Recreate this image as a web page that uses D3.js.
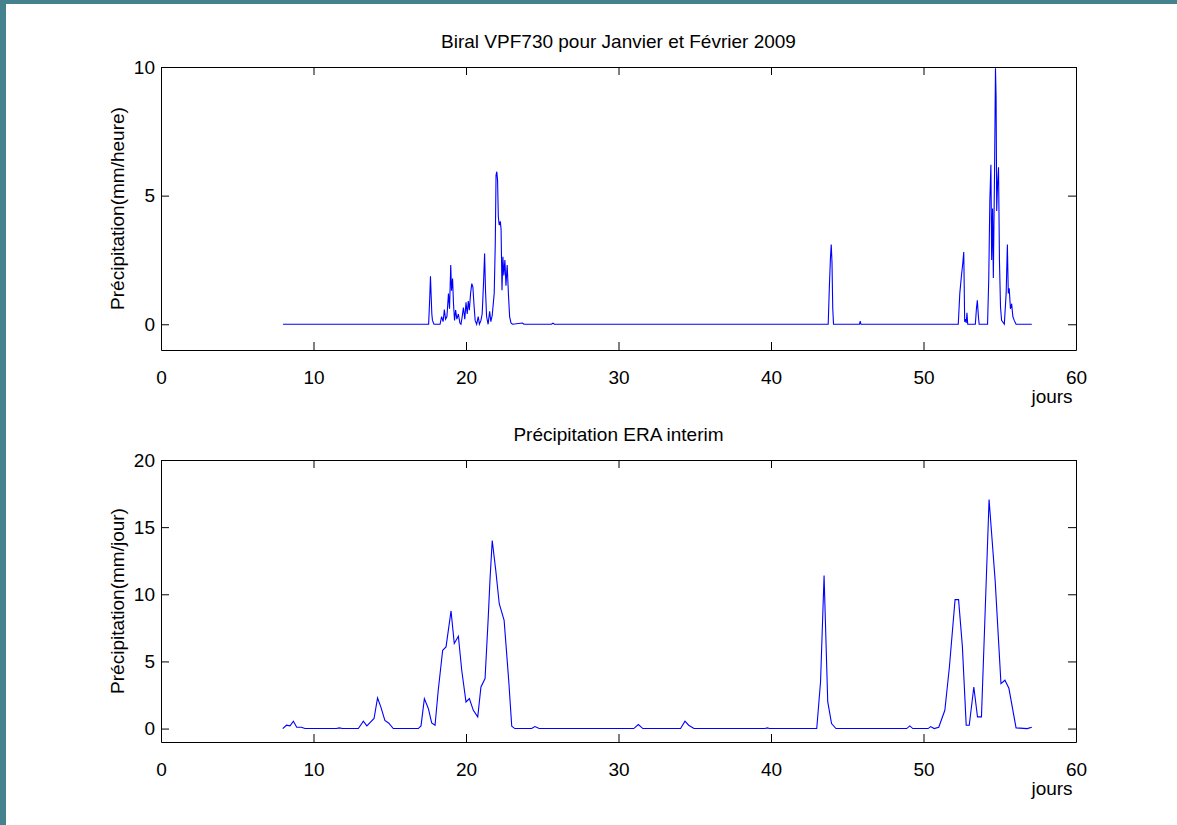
<!DOCTYPE html>
<html>
<head>
<meta charset="utf-8">
<script src="https://cdn.jsdelivr.net/npm/d3@7"></script>
<style>
  html, body { margin: 0; padding: 0; background: #fff; }
  svg { display: block; }
  text { font-family: "Liberation Sans", Arial, Helvetica, sans-serif; fill: #000; }
</style>
</head>
<body>
<svg id="chart"></svg>
<script>
// Biral VPF730 hourly precipitation (mm/heure), [day, value]
const biralPoints = [
  [8.0, 0], [17.55, 0], [17.62, 1.0], [17.67, 1.87], [17.71, 1.19], [17.76, 0.4], [17.8, 0.15], [17.9, 0],
  [18.3, 0], [18.4, 0.3], [18.5, 0.1], [18.58, 0.57], [18.66, 0.2], [18.75, 0.3], [18.85, 1.19], [18.92, 0.6],
  [19.0, 2.3], [19.05, 1.3], [19.12, 1.78], [19.18, 0.8], [19.25, 0.15], [19.32, 0.55], [19.4, 0.2], [19.5, 0.4],
  [19.6, 0.05], [19.67, 0], [19.75, 0.3], [19.83, 0.65], [19.92, 0.2], [20.0, 0.85], [20.08, 0.4], [20.15, 0.9],
  [20.22, 0.55], [20.3, 1.2], [20.38, 1.58], [20.45, 1.45], [20.52, 0.8], [20.6, 0.15], [20.7, 0], [20.8, 0.3],
  [20.88, 0], [20.98, 0.15], [21.06, 0.4], [21.15, 1.6], [21.22, 2.75], [21.28, 1.3], [21.35, 0.3], [21.45, 0],
  [21.55, 0.5], [21.63, 0.1], [21.72, 0.35], [21.85, 1.2], [21.92, 3.15], [21.97, 5.8], [22.02, 5.93], [22.07, 5.6],
  [22.12, 4.17], [22.18, 3.85], [22.25, 4.0], [22.3, 3.7], [22.36, 1.32], [22.42, 2.62], [22.48, 1.9], [22.55, 2.5],
  [22.62, 1.5], [22.7, 2.3], [22.78, 1.2], [22.86, 0.3], [22.95, 0.05], [23.05, 0], [23.7, 0.05], [23.8, 0],
  [25.6, 0], [25.7, 0.04], [25.8, 0], [43.75, 0], [43.83, 1.5], [43.9, 2.6], [43.95, 3.1], [44.0, 2.4],
  [44.05, 0.6], [44.1, 0], [45.8, 0], [45.85, 0.12], [45.9, 0], [52.28, 0], [52.38, 1.2], [52.48, 1.84],
  [52.58, 2.4], [52.64, 2.81], [52.7, 0.1], [52.76, 0.2], [52.8, 0.05], [52.85, 0.45], [52.9, 0], [53.4, 0],
  [53.47, 0.6], [53.53, 0.93], [53.6, 0.3], [53.65, 0], [54.2, 0], [54.28, 1.8], [54.35, 4.8], [54.42, 6.2],
  [54.47, 2.5], [54.53, 4.5], [54.58, 1.8], [54.66, 6.0], [54.72, 9.95], [54.76, 8.8], [54.8, 4.4], [54.86, 5.5],
  [54.92, 6.1], [54.98, 2.5], [55.05, 0.67], [55.12, 0.15], [55.3, 0], [55.42, 1.2], [55.5, 3.1], [55.56, 1.2],
  [55.62, 1.4], [55.7, 0.6], [55.78, 0.8], [55.86, 0.3], [55.95, 0.15], [56.07, 0], [57.1, 0]
];

// ERA interim precipitation (mm/jour), [day, value]
const eraPoints = [
  [7.98, 0], [8.23, 0.25], [8.46, 0.2], [8.68, 0.55], [8.9, 0.1], [9.2, 0.1], [9.44, 0], [11.5, 0],
  [11.69, 0.05], [11.9, 0], [12.94, 0], [13.27, 0.55], [13.5, 0.2], [13.97, 0.75], [14.2, 2.28], [14.42, 1.6],
  [14.68, 0.6], [14.94, 0.4], [15.23, 0], [16.87, 0], [17.05, 0.2], [17.27, 2.23], [17.53, 1.5], [17.75, 0.42],
  [17.97, 0.25], [18.18, 2.85], [18.47, 5.83], [18.69, 6.08], [19.02, 8.76], [19.23, 6.33], [19.5, 6.87], [19.72, 4.34],
  [20.0, 1.98], [20.22, 2.23], [20.48, 1.36], [20.77, 0.87], [20.98, 3.1], [21.25, 3.72], [21.46, 8.3], [21.57, 11],
  [21.72, 14.0], [21.95, 11.8], [22.18, 9.3], [22.5, 8.06], [22.8, 3.6], [23.0, 0.17], [23.2, 0], [24.3, 0],
  [24.52, 0.15], [24.8, 0], [31.0, 0], [31.3, 0.3], [31.6, 0], [34.07, 0], [34.36, 0.55], [34.6, 0.25],
  [34.95, 0], [39.6, 0], [39.76, 0.05], [39.9, 0], [43.0, 0], [43.25, 3.5], [43.48, 11.4], [43.72, 2.0],
  [43.97, 0.37], [44.26, 0], [48.9, 0], [49.1, 0.2], [49.3, 0], [50.3, 0], [50.47, 0.15], [50.7, 0],
  [51.0, 0.1], [51.4, 1.36], [51.7, 4.6], [52.07, 9.6], [52.3, 9.6], [52.55, 6.1], [52.8, 0.25], [53.0, 0.25],
  [53.3, 3.1], [53.54, 0.87], [53.8, 0.87], [54.0, 7.3], [54.3, 17.05], [54.7, 11.0], [55.08, 3.35], [55.34, 3.6],
  [55.6, 3.0], [56.07, 0.05], [56.8, 0], [57.1, 0.1]
];

const xTicks = [0, 10, 20, 30, 40, 50, 60];
const biralYTicks = [0, 5, 10];
const eraYTicks = [0, 5, 10, 15, 20];

const width = 1177, height = 825;
const fontSize = '19px';
const svg = d3.select('#chart').attr('width', width).attr('height', height);

// slide background showing at the edges
svg.append('rect').attr('width', width).attr('height', height).attr('fill', '#44838d');
svg.append('rect').attr('x', 6).attr('y', 4).attr('width', width - 6).attr('height', height - 4).attr('fill', '#fff');

function drawPanel(cfg) {
  const x = d3.scaleLinear().domain([0, 60]).range([161, 1076]);
  const y = d3.scaleLinear().domain(cfg.yDomain).range([cfg.bottom, cfg.top]);
  const g = svg.append('g');

  const line = d3.line().x(d => x(d[0])).y(d => y(d[1]));
  g.append('path')
    .datum(cfg.data)
    .attr('d', line)
    .attr('fill', 'none')
    .attr('stroke', '#0000ff')
    .attr('stroke-width', 1.1);

  const tick = 8;
  g.append('g').attr('transform', `translate(0,${cfg.bottom})`)
    .call(d3.axisBottom(x).tickValues(xTicks).tickSizeInner(-tick).tickSizeOuter(0).tickPadding(21));
  g.append('g').attr('transform', `translate(0,${cfg.top})`)
    .call(d3.axisTop(x).tickValues(xTicks).tickSizeInner(-tick).tickSizeOuter(0).tickFormat(''));
  g.append('g').attr('transform', 'translate(161,0)')
    .call(d3.axisLeft(y).tickValues(cfg.yTicks).tickSizeInner(-tick).tickSizeOuter(0).tickPadding(6));
  g.append('g').attr('transform', 'translate(1076,0)')
    .call(d3.axisRight(y).tickValues(cfg.yTicks).tickSizeInner(-tick).tickSizeOuter(0).tickFormat(''));

  g.selectAll('.domain').attr('stroke', '#000');
  g.selectAll('.tick line').attr('stroke', '#000');
  g.selectAll('.tick text').style('font-size', fontSize).attr('fill', '#000');

  g.append('text')
    .attr('x', (161 + 1076) / 2).attr('y', cfg.top - 19)
    .attr('text-anchor', 'middle').style('font-size', fontSize)
    .text(cfg.title);

  g.append('text')
    .attr('x', 1052).attr('y', cfg.bottom + 53)
    .attr('text-anchor', 'middle').style('font-size', fontSize)
    .text('jours');

  g.append('text')
    .attr('transform', `translate(124,${(cfg.top + cfg.bottom) / 2}) rotate(-90)`)
    .attr('text-anchor', 'middle').style('font-size', fontSize)
    .text(cfg.yLabel);
}

drawPanel({
  data: biralPoints, yDomain: [-1, 10], yTicks: biralYTicks, top: 67, bottom: 350,
  title: 'Biral VPF730 pour Janvier et Février 2009', yLabel: 'Précipitation(mm/heure)'
});
drawPanel({
  data: eraPoints, yDomain: [-1, 20], yTicks: eraYTicks, top: 460, bottom: 742,
  title: 'Précipitation ERA interim', yLabel: 'Précipitation(mm/jour)'
});
</script>
</body>
</html>
